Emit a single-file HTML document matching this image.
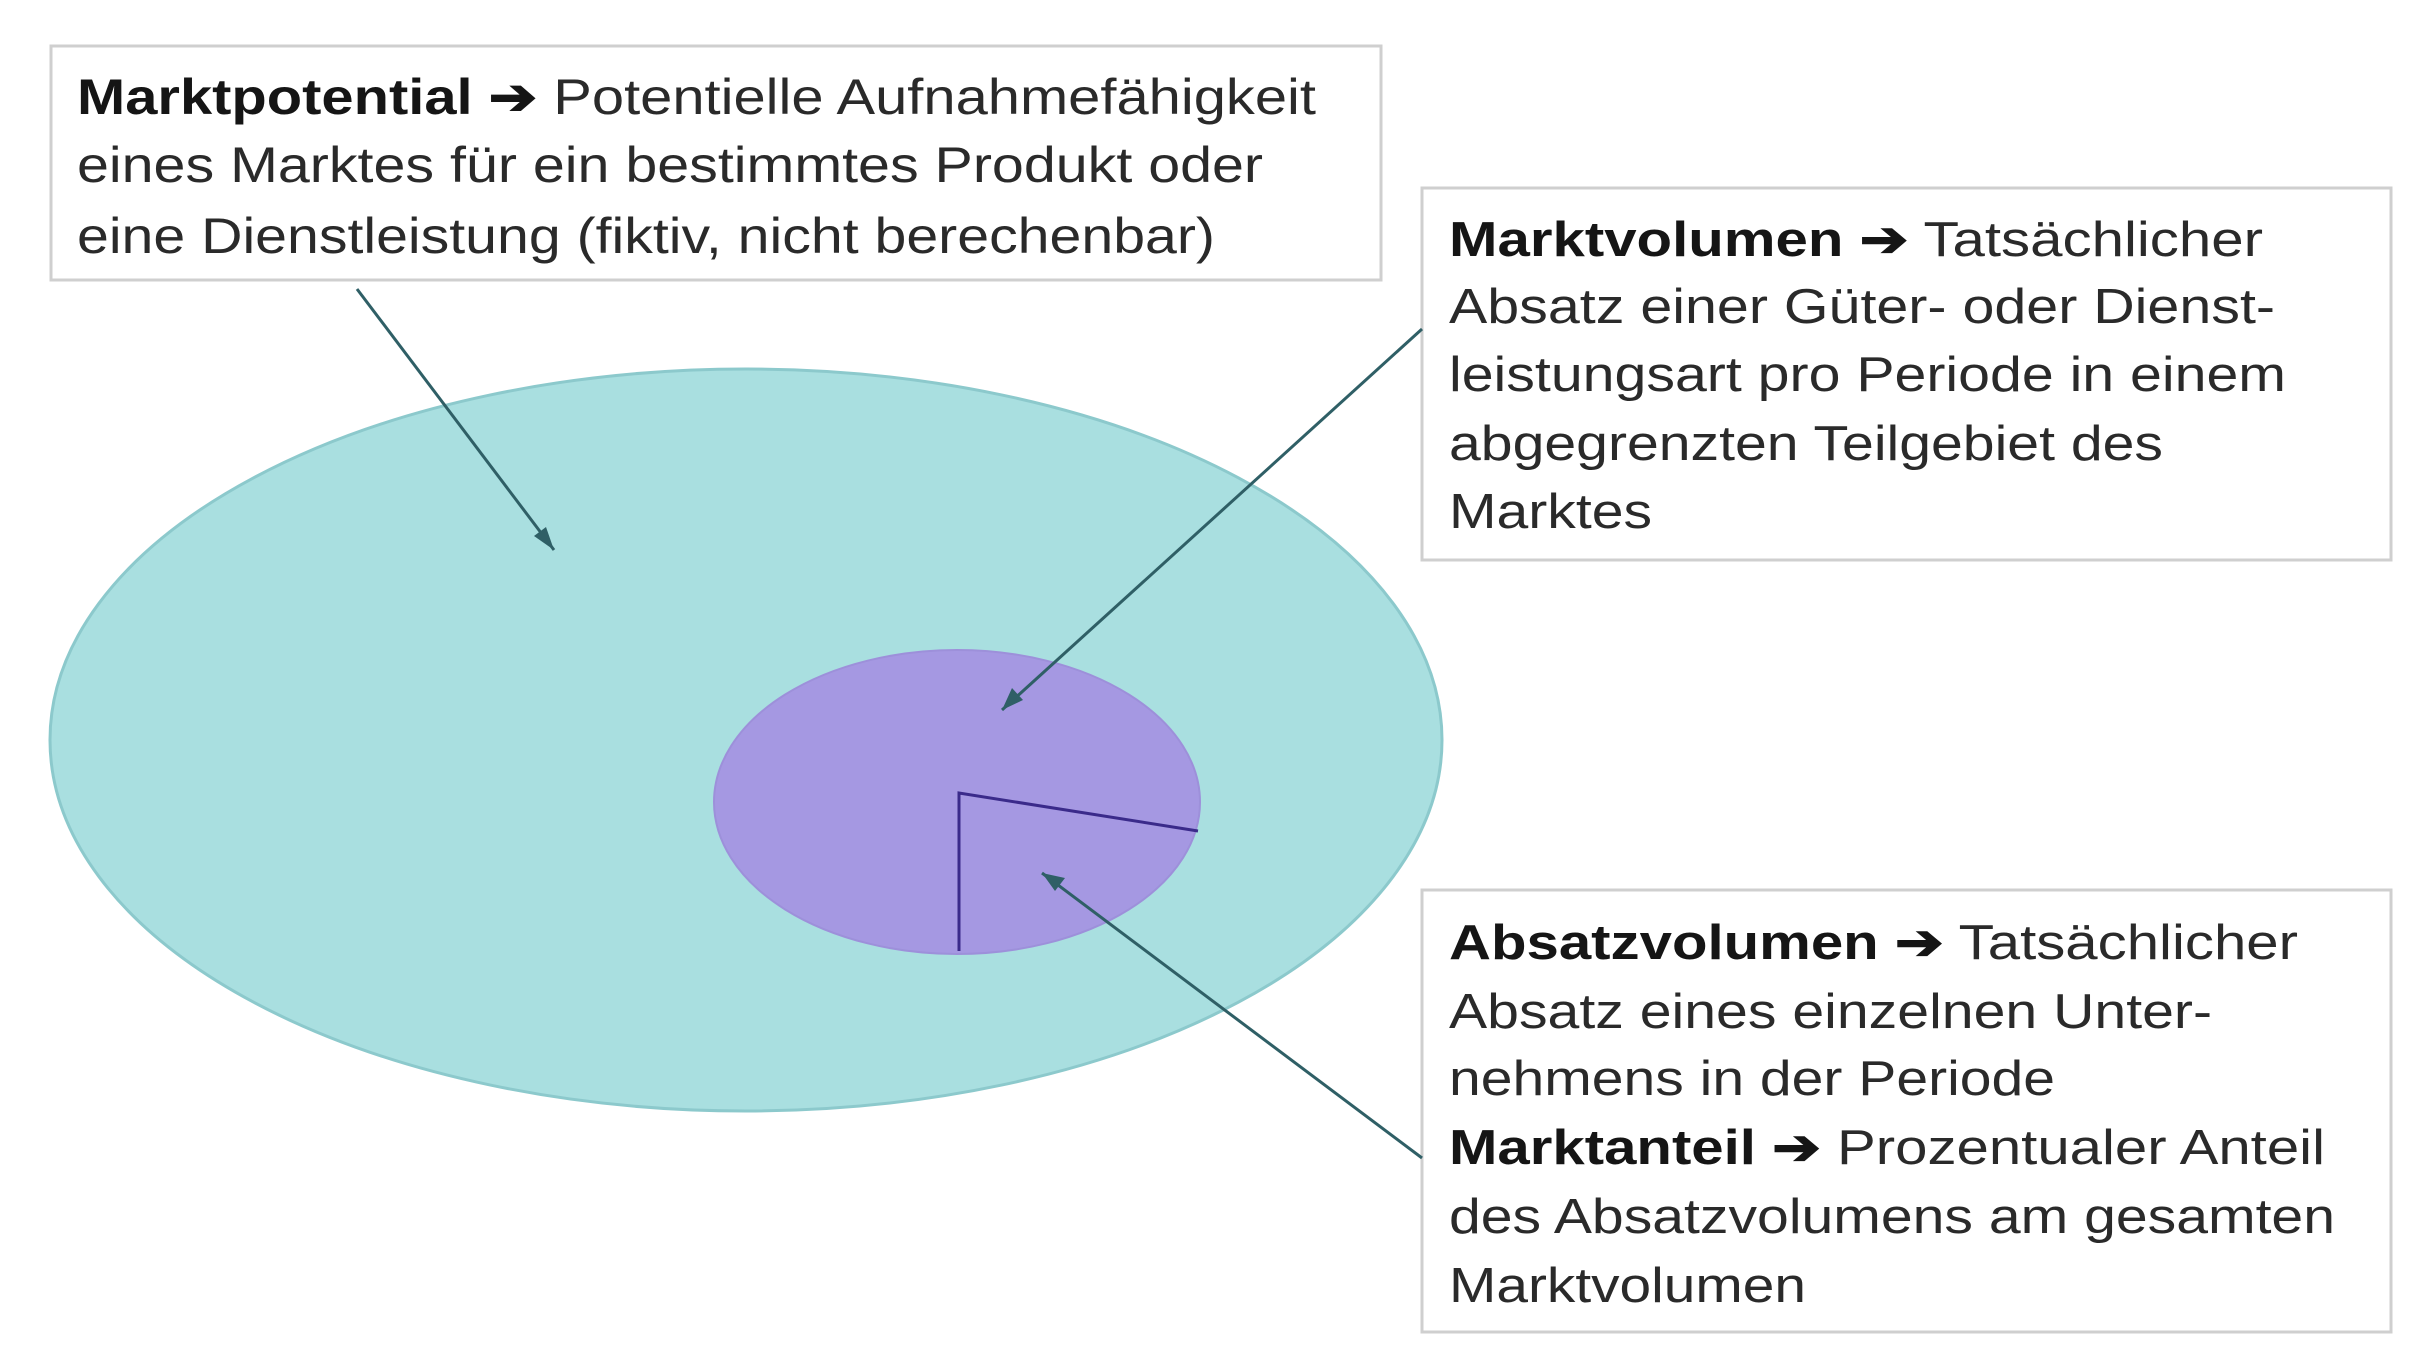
<!DOCTYPE html>
<html><head><meta charset="utf-8"><style>
html,body{margin:0;padding:0;background:#fff;}
svg{display:block;}
text{font-family:"Liberation Sans",Arial,sans-serif;fill:#2a2a2a;}
.b{font-weight:bold;fill:#151515;}
</style></head><body>
<svg width="2414" height="1346" viewBox="0 0 2414 1346" xmlns="http://www.w3.org/2000/svg">
<!-- ellipses -->
<ellipse cx="746" cy="740" rx="696" ry="371" fill="#a9dfe0" stroke="#8cc9cc" stroke-width="3"/>
<ellipse cx="957" cy="802" rx="243" ry="152" fill="#a598e2" stroke="#9d90da" stroke-width="2"/>
<polyline points="1198,831 959,793 959,951" fill="none" stroke="#3a2a8a" stroke-width="3"/>
<!-- box 1 -->
<rect x="51" y="46" width="1330" height="234" fill="#fff" stroke="#cfcfcf" stroke-width="3"/>
<text font-size="50"><tspan x="77" y="114" textLength="1239" lengthAdjust="spacingAndGlyphs"><tspan class="b">Marktpotential ➔</tspan> Potentielle Aufnahmefähigkeit</tspan></text>
<text font-size="50" x="77" y="182" textLength="1186" lengthAdjust="spacingAndGlyphs">eines Marktes für ein bestimmtes Produkt oder</text>
<text font-size="50" x="77" y="253" textLength="1138" lengthAdjust="spacingAndGlyphs">eine Dienstleistung (fiktiv, nicht berechenbar)</text>
<!-- box 2 -->
<rect x="1422" y="188" width="969" height="372" fill="#fff" stroke="#cfcfcf" stroke-width="3"/>
<text font-size="49"><tspan x="1449" y="256" textLength="814" lengthAdjust="spacingAndGlyphs"><tspan class="b">Marktvolumen ➔</tspan> Tatsächlicher</tspan></text>
<text font-size="49" x="1449" y="323" textLength="826" lengthAdjust="spacingAndGlyphs">Absatz einer Güter- oder Dienst-</text>
<text font-size="49" x="1449" y="391" textLength="837" lengthAdjust="spacingAndGlyphs">leistungsart pro Periode in einem</text>
<text font-size="49" x="1449" y="460" textLength="714" lengthAdjust="spacingAndGlyphs">abgegrenzten Teilgebiet des</text>
<text font-size="49" x="1449" y="528" textLength="203" lengthAdjust="spacingAndGlyphs">Marktes</text>
<!-- box 3 -->
<rect x="1422" y="890" width="969" height="442" fill="#fff" stroke="#cfcfcf" stroke-width="3"/>
<text font-size="49"><tspan x="1449" y="959" textLength="849" lengthAdjust="spacingAndGlyphs"><tspan class="b">Absatzvolumen ➔</tspan> Tatsächlicher</tspan></text>
<text font-size="49" x="1449" y="1028" textLength="763" lengthAdjust="spacingAndGlyphs">Absatz eines einzelnen Unter-</text>
<text font-size="49" x="1449" y="1095" textLength="606" lengthAdjust="spacingAndGlyphs">nehmens in der Periode</text>
<text font-size="49"><tspan x="1449" y="1164" textLength="876" lengthAdjust="spacingAndGlyphs"><tspan class="b">Marktanteil ➔</tspan> Prozentualer Anteil</tspan></text>
<text font-size="49" x="1449" y="1233" textLength="886" lengthAdjust="spacingAndGlyphs">des Absatzvolumens am gesamten</text>
<text font-size="49" x="1449" y="1302" textLength="357" lengthAdjust="spacingAndGlyphs">Marktvolumen</text>
<!-- arrows -->
<g stroke="#2f5f66" stroke-width="3" fill="none">
<line x1="357" y1="289" x2="554" y2="550"/>
<line x1="1422" y1="329" x2="1002" y2="710"/>
<line x1="1422" y1="1158" x2="1042" y2="873"/>
</g>
<g fill="#2f5f66">
<polygon points="554,550 534,536 546,527"/>
<polygon points="1002,710 1012,688 1023,700"/>
<polygon points="1042,873 1065,878 1055,891"/>
</g>
</svg>
</body></html>
